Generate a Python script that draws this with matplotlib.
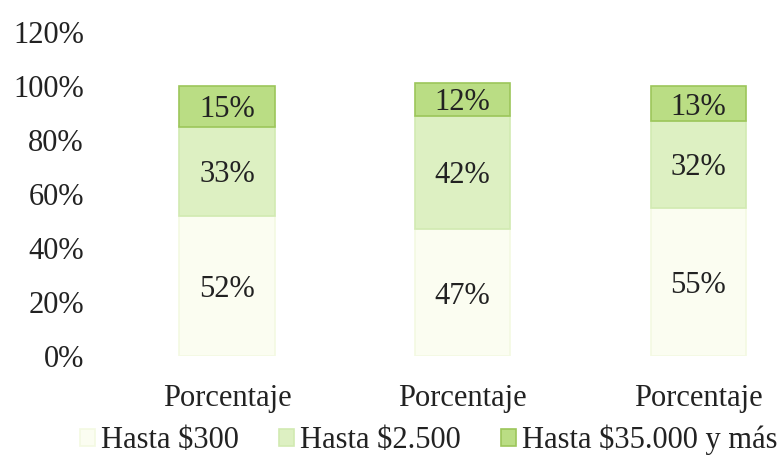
import matplotlib
matplotlib.use("Agg")
import matplotlib.pyplot as plt
import numpy as np

categories = ["Porcentaje", "Porcentaje", "Porcentaje"]
series_names = ["Hasta $300", "Hasta $2.500", "Hasta $35.000 y más"]
hasta_300 = [0.52, 0.47, 0.55]
hasta_2500 = [0.33, 0.42, 0.32]
hasta_35000 = [0.15, 0.12, 0.13]
yticks = [0, 0.2, 0.4, 0.6, 0.8, 1.0, 1.2]

plt.rcParams['font.family'] = ['Liberation Serif', 'DejaVu Serif']
fs = 22

fig = plt.figure(figsize=(7.82, 4.66), dpi=100)
ax = fig.add_axes([95/782, (466-356)/466, (782-95)/782, (356-32)/466])

x = np.arange(len(categories))
w = 0.405
face = ["#FBFDF1", "#DDF0C2", "#BADD84"]
edge = ["#F3F9E2", "#D2EAB2", "#9CC65A"]
bottom = np.zeros(len(categories))
for vals, name, fc, ec in zip([hasta_300, hasta_2500, hasta_35000], series_names, face, edge):
    vals = np.array(vals)
    ax.bar(x, vals, w, bottom=bottom, color=fc, edgecolor=ec, linewidth=1.2, label=name)
    for xi, b, v in zip(x, bottom, vals):
        ax.text(xi, b + v/2, f"{round(v*100)}%", ha="center", va="center_baseline",
                fontsize=fs, color="#222222")
    bottom = bottom + vals

ax.set_xlim(-0.56, 2.355)
ax.set_ylim(0, 1.2)
ax.set_yticks(yticks)
ax.set_yticklabels([f"{int(round(t*100))}%" for t in yticks], fontsize=fs, color="#222222")
ax.set_xticks(x)
ax.set_xticklabels(categories, fontsize=fs, color="#222222")
ax.tick_params(axis='x', length=0, pad=20)
ax.tick_params(axis='y', length=0, pad=8)
for s in ax.spines.values():
    s.set_visible(False)

leg = fig.legend(loc="center", bbox_to_anchor=(0.548, (466-440)/466), ncol=3, frameon=False,
                 fontsize=fs, handlelength=0.5, handleheight=0.5, handletextpad=0.2, columnspacing=1.3)
for t in leg.get_texts():
    t.set_color("#222222")

fig.savefig("out.png", dpi=100)
